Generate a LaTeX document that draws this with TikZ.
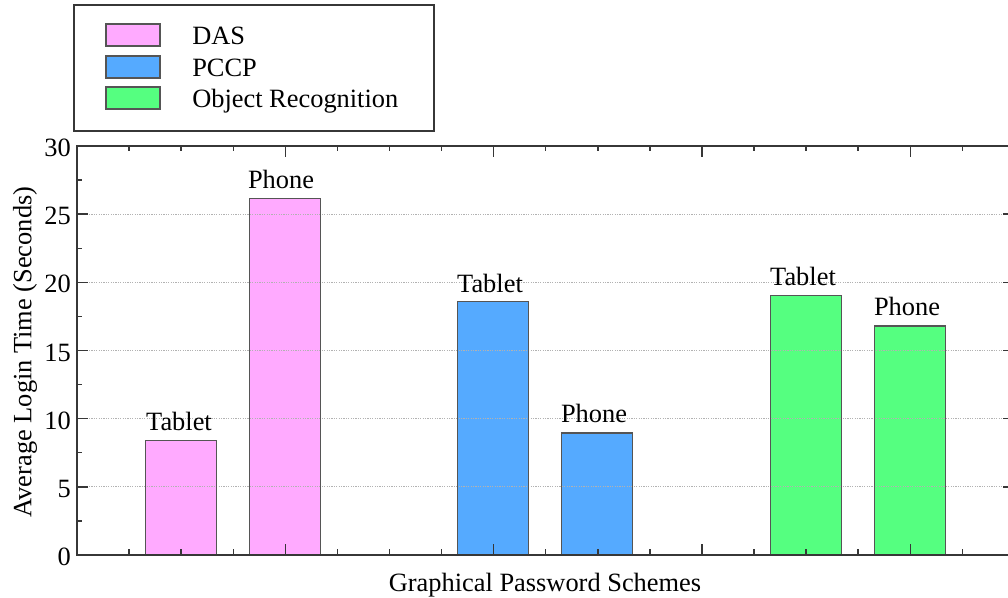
\documentclass[tikz,border=0pt]{standalone}
\usepackage{fontspec}
\setmainfont{Liberation Serif}
\definecolor{dasc}{RGB}{255,170,255}
\definecolor{pccpc}{RGB}{85,170,255}
\definecolor{objc}{RGB}{85,255,128}
\definecolor{axisc}{RGB}{55,55,55}
\definecolor{edgec}{RGB}{85,85,85}
\tikzset{
  axisline/.style={draw=axisc, line width=1.5pt},
  tickline/.style={draw=axisc, line width=1.1pt},
  gridline/.style={draw=gray!60, line width=0.9pt, dash pattern=on 0.9pt off 0.9pt},
  barfill/.style={fill=#1, draw=none},
  baredge/.style={draw=edgec, line width=1.1pt},
  swatch/.style={draw=edgec, line width=1.1pt, fill=#1},
  lbl/.style={inner sep=0pt},
}
% pixel-like units: x to the right, y downwards; value v sits at y = 555 - 13.633 v
\newcommand{\ypos}[1]{555-13.633*(#1)}
\begin{document}
\begin{tikzpicture}[x=0.75pt, y=-0.75pt, font=\fontsize{19.8}{23}\selectfont]
\useasboundingbox (0,0) rectangle (1008,598);
\clip (0,0) rectangle (1008,598);

% bars (fill first, grid on top, then outlines)
\foreach \cx/\v/\c in {181/8.41/dasc, 285/26.13/dasc, 493/18.61/pccpc, 597/8.95/pccpc, 806/19.02/objc, 910/16.80/objc}{
  \fill[barfill=\c] ({\cx-35.5},555) rectangle ({\cx+35.5},{\ypos{\v}});
}
\foreach \v in {5,10,...,25}{
  \draw[gridline] (77,{\ypos{\v}}) -- (1014,{\ypos{\v}});
}
\foreach \cx/\v in {181/8.41, 285/26.13, 493/18.61, 597/8.95, 806/19.02, 910/16.80}{
  \draw[baredge] ({\cx-35.5},555) rectangle ({\cx+35.5},{\ypos{\v}});
}

% bar labels
\node[lbl, anchor=base] (l1) at (179,{\ypos{8.41}-10}) {Tablet};
\node[lbl, anchor=base] (l2) at (281,{\ypos{26.13}-10}) {Phone};
\node[lbl, anchor=base] (l3) at (490,{\ypos{18.61}-9}) {Tablet};
\node[lbl, anchor=base] (l4) at (594,{\ypos{8.95}-10}) {Phone};
\node[lbl, anchor=base] (l5) at (803,{\ypos{19.02}-10}) {Tablet};
\node[lbl, anchor=base] (l6) at (907,{\ypos{16.80}-10}) {Phone};

% frame
\draw[axisline] (77,146) rectangle (1014,555);

% y ticks, left and right
\foreach \k in {1,...,11}{
  \pgfmathsetmacro{\yy}{\ypos{2.5*\k}}
  \pgfmathtruncatemacro{\maj}{mod(\k,2)==0 ? 1 : 0}
  \ifnum\maj=1
    \draw[tickline] (77,\yy) -- (88,\yy);
    \draw[tickline] (1014,\yy) -- (1003,\yy);
  \else
    \draw[tickline] (77,\yy) -- (82,\yy);
    \draw[tickline] (1014,\yy) -- (1008,\yy);
  \fi
}
% x ticks, bottom and top
\foreach \k in {1,...,17}{
  \pgfmathsetmacro{\xx}{77+52.08*\k}
  \pgfmathtruncatemacro{\maj}{mod(\k,4)==0 ? 1 : 0}
  \ifnum\maj=1
    \draw[tickline] (\xx,555) -- (\xx,544);
    \draw[tickline] (\xx,146) -- (\xx,157);
  \else
    \draw[tickline] (\xx,555) -- (\xx,549);
    \draw[tickline] (\xx,146) -- (\xx,151);
  \fi
}

% y tick labels
\foreach \v in {0,5,...,30}{
  \node[lbl, anchor=east] (t\v) at (71,{\ypos{\v}+2}) {\v};
}

% axis titles
\node[lbl, rotate=90] (ytitle) at (25,352) {Average Login Time (Seconds)};
\node[lbl, anchor=base] (xtitle) at (545,592) {Graphical Password Schemes};

% legend
\draw[draw=axisc, line width=1.1pt, fill=white] (74,5) rectangle (434,131);
\draw[swatch=dasc] (106,24) rectangle (160,46);
\draw[swatch=pccpc] (106,56) rectangle (160,78);
\draw[swatch=objc] (106,87) rectangle (160,109);
\node[lbl, anchor=base west] (k1) at (192,45) {DAS};
\node[lbl, anchor=base west] (k2) at (192,77) {PCCP};
\node[lbl, anchor=base west] (k3) at (192,108) {Object Recognition};
\end{tikzpicture}
\end{document}
